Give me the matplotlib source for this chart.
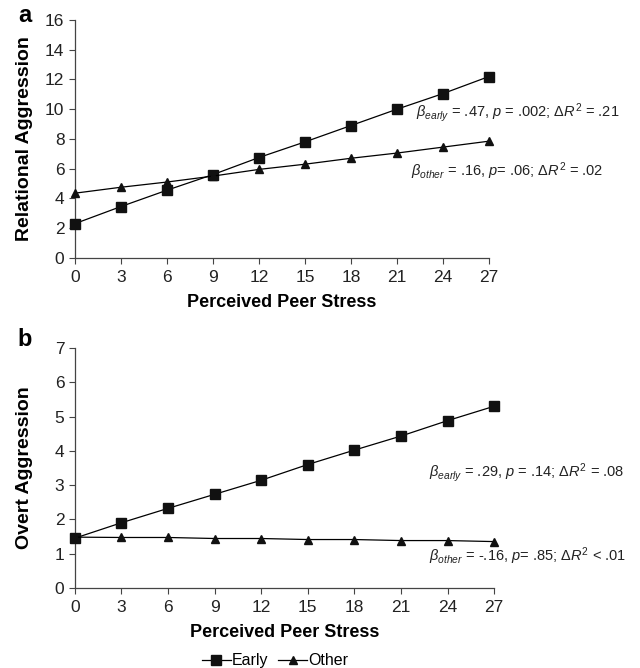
import matplotlib.pyplot as plt
import numpy as np

plt.rcParams['font.family'] = ['Liberation Sans', 'DejaVu Sans']
plt.rcParams['mathtext.fontset'] = 'custom'
plt.rcParams['mathtext.it'] = 'Liberation Sans:italic'
plt.rcParams['mathtext.rm'] = 'Liberation Sans'

stress = [0, 3, 6, 9, 12, 15, 18, 21, 24, 27]

rel_early = [2.3, 3.45, 4.55, 5.6, 6.75, 7.8, 8.9, 10.0, 11.05, 12.2]
rel_other = [4.35, 4.75, 5.1, 5.5, 5.95, 6.3, 6.7, 7.05, 7.45, 7.85]

ovt_early = [1.45, 1.9, 2.32, 2.73, 3.14, 3.6, 4.02, 4.43, 4.88, 5.3]
ovt_other = [1.48, 1.47, 1.47, 1.44, 1.44, 1.41, 1.41, 1.38, 1.38, 1.35]

ann_a = [r'$\beta_{early}$ = .47, $p$ = .002; $\Delta R^2$ = .21',
         r'$\beta_{other}$ = .16, $p$= .06; $\Delta R^2$ = .02']
ann_b = [r'$\beta_{early}$ = .29, $p$ = .14; $\Delta R^2$ = .08',
         r'$\beta_{other}$ = -.16, $p$= .85; $\Delta R^2$ < .01']


def draw_panel(ax, early, other, ymax, ylabel, anns, ann_pos):
    ax.plot(stress, early, color='black', lw=0.9, marker='s', ms=7,
            mfc='#111111', mec='#111111', label='Early', clip_on=False, zorder=3)
    ax.plot(stress, other, color='black', lw=0.9, marker='^', ms=5.5,
            mfc='#111111', mec='#111111', label='Other', clip_on=False, zorder=3)
    ax.set_xlim(0, 27)
    ax.set_ylim(0, ymax)
    ax.set_xticks(stress)
    ax.spines['top'].set_visible(False)
    ax.spines['right'].set_visible(False)
    for s in ('left', 'bottom'):
        ax.spines[s].set_color('#444444')
        ax.spines[s].set_linewidth(0.9)
    ax.tick_params(labelsize=12.5, length=4, width=0.8, color='#444444',
                   labelcolor='#222222')
    ax.tick_params(axis='x', pad=5)
    ax.set_xlabel('Perceived Peer Stress', fontsize=13, fontweight='bold',
                  labelpad=6)
    ax.set_ylabel(ylabel, fontsize=14, fontweight='bold')
    for txt, (x, y) in zip(anns, ann_pos):
        ax.text(x, y, txt, transform=ax.transAxes, fontsize=10.5,
                ha='left', va='center', color='#222222', clip_on=False)


fig = plt.figure(figsize=(6.4, 6.68), dpi=100)
ax1 = fig.add_axes([0.117, 0.614, 0.647, 0.356])
ax2 = fig.add_axes([0.117, 0.120, 0.655, 0.359])

draw_panel(ax1, rel_early, rel_other, 16, 'Relational Aggression',
           ann_a, [(0.823, 0.612), (0.811, 0.363)])
ax1.set_yticks(np.arange(0, 17, 2))
draw_panel(ax2, ovt_early, ovt_other, 7, 'Overt Aggression',
           ann_b, [(0.845, 0.480), (0.845, 0.130)])
ax2.set_yticks(np.arange(0, 8, 1))
ax1.yaxis.set_label_coords(-0.10, 0.5)
ax2.yaxis.set_label_coords(-0.10, 0.5)

fig.text(25 / 640, 1 - 16 / 668, 'a', fontsize=17, fontweight='bold',
         ha='center', va='center')
fig.text(25 / 640, 1 - 340 / 668, 'b', fontsize=17, fontweight='bold',
         ha='center', va='center')

h, l = ax2.get_legend_handles_labels()
fig.legend(h, l, loc='lower center', bbox_to_anchor=(0.43, -0.022), ncol=2,
           frameon=False, fontsize=11.5, handlelength=1.8, handletextpad=0.1,
           columnspacing=0.6)

fig.savefig('out.png', dpi=100)
